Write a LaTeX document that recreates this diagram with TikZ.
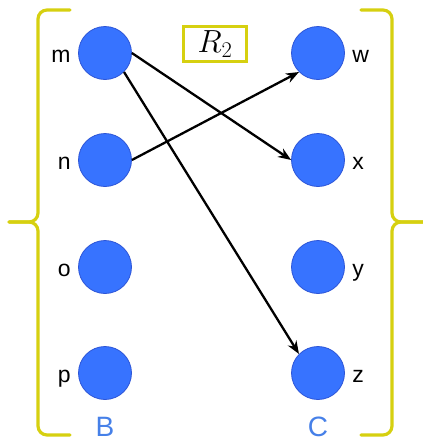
\RequirePackage{fix-cm}
\documentclass[tikz,border=0pt]{standalone}
\usepackage{fontspec}
\setmainfont{Liberation Sans}
\usetikzlibrary{arrows.meta}
\definecolor{amarelo}{RGB}{214,208,16}
\definecolor{azul}{RGB}{55,115,255}
\definecolor{azulborda}{RGB}{45,85,215}
\definecolor{azulletra}{RGB}{70,128,232}
\tikzset{
  vert/.style={circle,fill=azul,draw=azulborda,line width=0.8pt,minimum size=53pt,inner sep=0pt},
  rot/.style={font=\fontsize{23}{27}\selectfont,text height=12pt,text depth=0pt,label distance=4pt,yshift=-3pt},
  chave/.style={draw=amarelo,line width=3.2pt,rounded corners=9pt,line cap=round},
  seta/.style={-{Stealth[length=13pt,width=10pt]},line width=2.3pt,black}
}
\begin{document}
\begin{tikzpicture}[x=1pt,y=-1pt]
\useasboundingbox (0,0) rectangle (423,442);
%chaves
\draw[chave] (70,10) -- (38,10) -- (38,222) -- (9,222);
\draw[chave] (9,222) -- (38,222) -- (38,435) -- (70,435);
\draw[chave] (361,10) -- (392,10) -- (392,222) -- (423,222);
\draw[chave] (423,222) -- (392,222) -- (392,435) -- (361,435);
%vertices
\node[vert,label={[rot]left:m}] (m) at (105,53) {};
\node[vert,label={[rot]left:n}] (n) at (105,160) {};
\node[vert,label={[rot]left:o}] (o) at (105,267) {};
\node[vert,label={[rot]left:p}] (p) at (105,373) {};
\node[vert,label={[rot]right:w}] (w) at (318,53) {};
\node[vert,label={[rot]right:x}] (x) at (318,160) {};
\node[vert,label={[rot]right:y}] (y) at (318,267) {};
\node[vert,label={[rot]right:z}] (z) at (318,373) {};
\node[text=azulletra,inner sep=0pt,font=\fontsize{28}{32}\selectfont] (B) at (105,427) {B};
\node[text=azulletra,inner sep=0pt,font=\fontsize{28}{32}\selectfont] (C) at (318,427) {C};
%relacao
\node[draw=amarelo,line width=2.2pt,minimum width=63pt,minimum height=35pt,inner sep=0pt,font=\fontsize{32}{36}\selectfont] (R) at (215,44) {$R_2$};
\draw[seta] (m.east) -- (x.west);
\draw[seta] (m.south east) -- (z.north west);
\draw[seta] (n.east) -- (w.south west);
\end{tikzpicture}
\end{document}
